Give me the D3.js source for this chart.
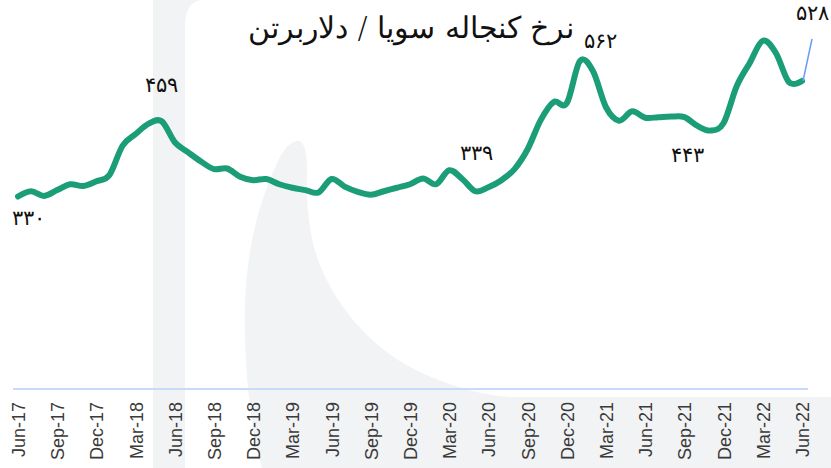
<!DOCTYPE html>
<meta charset="utf-8">
<style>
body {
    margin: 0px;
    background: #fff;
}
.title {
  font-family: "DejaVu Sans", sans-serif;
  font-size: 30px;
  font-weight: 300;
  fill: #111;
}
.val-label {
  font-family: "DejaVu Sans", sans-serif;
  font-size: 21px;
  font-weight: 300;
  fill: #111;
}
.tick text {
  font-family: "Liberation Sans", Arial, sans-serif;
  font-size: 18px;
  fill: #3a3a3a;
}
</style>
<body>
<script src="https://d3js.org/d3.v7.min.js"></script>
<script>
var width = 831,
    height = 468

// monthly categories
var months = ["Jun-17","Jul-17","Aug-17","Sep-17","Oct-17","Nov-17","Dec-17","Jan-18","Feb-18","Mar-18","Apr-18","May-18",
  "Jun-18","Jul-18","Aug-18","Sep-18","Oct-18","Nov-18","Dec-18","Jan-19","Feb-19","Mar-19","Apr-19","May-19",
  "Jun-19","Jul-19","Aug-19","Sep-19","Oct-19","Nov-19","Dec-19","Jan-20","Feb-20","Mar-20","Apr-20","May-20",
  "Jun-20","Jul-20","Aug-20","Sep-20","Oct-20","Nov-20","Dec-20","Jan-21","Feb-21","Mar-21","Apr-21","May-21",
  "Jun-21","Jul-21","Aug-21","Sep-21","Oct-21","Nov-21","Dec-21","Jan-22","Feb-22","Mar-22","Apr-22","May-22","Jun-22"]

// soybean meal price, $/ton
var prices = [330,339,331,341,351,348,356,367,417,437,455,459,
  423,406,390,377,378,364,358,360,351,345,341,337,
  360,347,338,333,339,345,351,361,351,375,360,339,
  346,358,377,411,461,492,490,562,545,483,460,476,
  465,466,467,466,451,443,456,519,559,597,576,526,528]

// axis tick labels (quarterly)
var tickLabels = ["Jun-17","Sep-17","Dec-17","Mar-18","Jun-18","Sep-18","Dec-18","Mar-19","Jun-19","Sep-19","Dec-19",
  "Mar-20","Jun-20","Sep-20","Dec-20","Mar-21","Jun-21","Sep-21","Dec-21","Mar-22","Jun-22"]

// labelled points
var labelMonths = ["Jun-17","May-18","May-20","Jan-21","Nov-21","Jun-22"]
var labelTexts = ["۳۳۰","۴۵۹","۳۳۹","۵۶۲","۴۴۳","۵۲۸"]

var title = "نرخ کنجاله سویا / دلاربرتن"

var svg = d3.select("body").append("svg")
    .attr("width", width)
    .attr("height", height)

// watermark in the back
var wm = svg.append("g").attr("fill", "#f2f3f5")
wm.append("rect").attr("x", 153).attr("y", 0).attr("width", 32).attr("height", height)
wm.append("path").attr("d", "M185,24 C186,8 192,2 200,0 L185,0 Z")
wm.append("path").attr("d", "M297,141 C289,142 283,151 278,161 C262,195 250,235 246,285 C242,340 248,420 262,468 L831,468 L831,397 L510,397 C480,395 445,385 410,367 C370,345 340,310 322,270 C309,240 306,205 307,170 C307,150 304,140 297,141 Z")

var x = d3.scalePoint()
    .domain(months)
    .range([18, 802])

var y = d3.scaleLinear()
    .domain([0, 600])
    .range([389, 39])

// baseline
svg.append("line")
    .attr("x1", 13)
    .attr("x2", 808)
    .attr("y1", y(0))
    .attr("y2", y(0))
    .attr("stroke", "#c8dafb")
    .attr("stroke-width", 2)

// x axis
var xAxis = d3.axisBottom(x)
    .tickValues(tickLabels)
    .tickSize(0)

var gx = svg.append("g")
    .attr("transform", "translate(0," + 402 + ")")
    .call(xAxis)
gx.select(".domain").remove()
gx.selectAll(".tick text")
    .attr("text-anchor", "end")
    .attr("transform", "rotate(-90)")
    .attr("x", 0)
    .attr("y", 0)
    .attr("dy", "0.36em")

// line
var line = d3.line()
    .x(function(d, i) { return x(months[i]) })
    .y(function(d) { return y(d) })
    .curve(d3.curveCardinal)

svg.append("path")
    .datum(prices)
    .attr("fill", "none")
    .attr("stroke", "#1b9e77")
    .attr("stroke-width", 6)
    .attr("stroke-linejoin", "round")
    .attr("stroke-linecap", "round")
    .attr("d", line)

// label offsets from their points
var offs = [[10, 28], [0, -29], [1, -31], [21, -13], [-23, 31], [10, -61]]

// leader line for the last label
var lastI = months.length - 1
svg.append("line")
    .attr("x1", x(months[lastI]) + 1)
    .attr("y1", y(prices[lastI]))
    .attr("x2", x(months[lastI]) + 10)
    .attr("y2", y(prices[lastI]) - 42)
    .attr("stroke", "#6c9cf5")
    .attr("stroke-width", 1.5)

svg.selectAll(".val-label")
    .data(labelMonths)
    .enter()
    .append("text")
    .attr("class", "val-label")
    .attr("text-anchor", "middle")
    .attr("x", function(d, i) { return x(d) + offs[i][0] })
    .attr("y", function(d, i) { return y(prices[months.indexOf(d)]) + offs[i][1] })
    .text(function(d, i) { return labelTexts[i] })

// title
svg.append("text")
    .attr("class", "title")
    .attr("x", 411)
    .attr("y", 38)
    .attr("text-anchor", "middle")
    .attr("direction", "rtl")
    .text(title)
</script>
